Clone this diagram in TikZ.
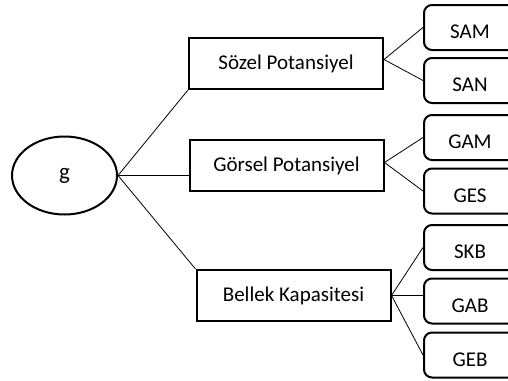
\documentclass[tikz,border=0pt]{standalone}
\usepackage{fontspec}
\setmainfont{Carlito}
\usetikzlibrary{calc,positioning,shapes}

\begin{document}
\begin{tikzpicture}[x=1pt,y=-1pt,font=\fontsize{21}{25}\selectfont]
      \tikzstyle{bnode} = [draw=black, rectangle, line width=2pt, minimum width=194pt, minimum height=51pt, align=center]
      \tikzstyle{snode} = [draw=black, rectangle, rounded corners=8pt, line width=2pt, minimum width=92pt, minimum height=45pt, text height=22pt, text depth=0pt]
      \tikzstyle{conn} = [black, line width=0.8pt]

      \useasboundingbox (0,0) rectangle (508,380);
      \clip (0,0) rectangle (508,380);

      \node[draw=black, ellipse, line width=2pt, minimum width=105pt, minimum height=78pt, font=\fontsize{23}{27}\selectfont] (g) at (64.5,175.5) {g};

      \node[bnode] (sozel) at (286,63.5) {Sözel Potansiyel};
      \node[bnode] (gorsel) at (286.5,165.5) {Görsel Potansiyel};
      \node[bnode] (bellek) at (293.5,295.5) {Bellek Kapasitesi};

      \draw[conn] (g.east) to (sozel.south west);
      \draw[conn] (g.east) to (g.east -| gorsel.west);
      \draw[conn] (g.east) to (bellek.north west);

      \node[snode] (sam) at (470,27.5) {SAM};
      \node[snode] (san) at (470,80.5) {SAN};
      \draw[conn] ([yshift=4pt]sozel.east) to (sam.west);
      \draw[conn] ([yshift=4pt]sozel.east) to (san.west);

      \node[snode] (gam) at (470,137.5) {GAM};
      \node[snode] (ges) at (470,191) {GES};
      \draw[conn] ([yshift=3pt]gorsel.east) to (gam.west);
      \draw[conn] ([yshift=3pt]gorsel.east) to (ges.west);

      \node[snode] (skb) at (470,247.5) {SKB};
      \node[snode] (gab) at (470,301) {GAB};
      \node[snode] (geb) at (470,355) {GEB};
      \draw[conn] (bellek.east) to (skb.west);
      \draw[conn] (bellek.east) to (bellek.east -| gab.west);
      \draw[conn] (bellek.east) to (geb.west);

    \end{tikzpicture}
\end{document}
